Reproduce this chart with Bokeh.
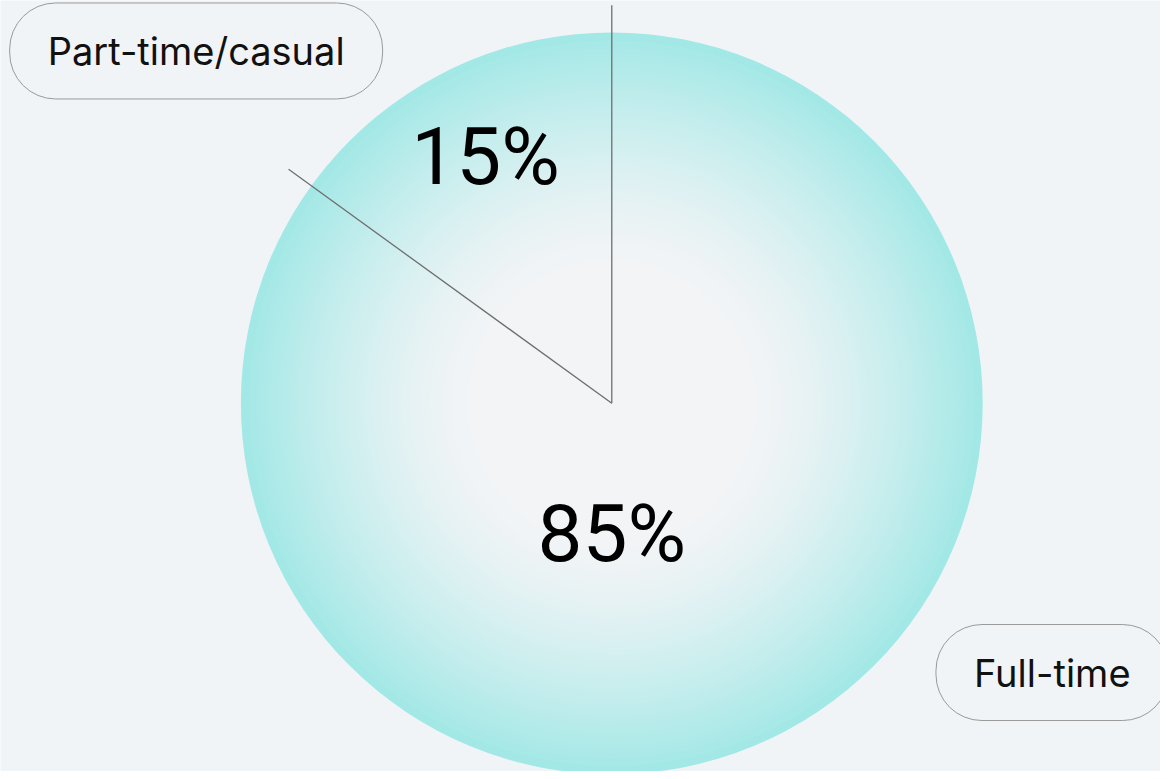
import math
from bokeh.plotting import figure
from bokeh.models import Range1d, Label
from bokeh.embed import file_html
from bokeh.resources import INLINE

# ---- data ----
categories = ["Part-time/casual", "Full-time"]
shares = [15, 85]
share_labels = ["15%", "85%"]

# ---- layout (reference pixel space mapped onto the figure) ----
W, H = 1160, 771
p = figure(width=W, height=H, output_backend="svg", toolbar_location=None,
           x_range=Range1d(0, 1168), y_range=Range1d(779, 0),
           min_border=0, outline_line_color=None)
p.axis.visible = False
p.grid.visible = False
p.background_fill_color = "#f1f4f6"
p.border_fill_color = "#f1f4f6"

cx, cy, R = 615.5, 407.0, 373.5

# radial gradient simulated by concentric discs
def mix(c1, c2, t):
    a = [int(c1[i:i + 2], 16) for i in (1, 3, 5)]
    b = [int(c2[i:i + 2], 16) for i in (1, 3, 5)]
    return "#%02x%02x%02x" % tuple(round(a[k] + (b[k] - a[k]) * t) for k in range(3))

center_col, edge_col = "#f2f4f6", "#a2e8e6"
N = 90
radii, cols = [], []
for i in range(N):
    t = 1 - i / N
    m = max(0.0, (t - 0.38) / 0.62)
    m = m ** 1.4
    radii.append(R * t)
    cols.append(mix(center_col, edge_col, m))
p.circle(x=[cx] * N, y=[cy] * N, radius=radii, fill_color=cols, line_color=None)

# slice boundaries (start at top, going counter-clockwise)
total = sum(shares)
L = R * 1.077
xs0, ys0, xs1, ys1 = [], [], [], []
cum = 0
for s in shares:
    ang = 2 * math.pi * cum / total
    xs0.append(cx); ys0.append(cy)
    xs1.append(cx - L * math.sin(ang)); ys1.append(cy - L * math.cos(ang))
    cum += s
p.segment(xs0, ys0, xs1, ys1, line_color="#6e6e6e", line_width=1.3)

# value labels
mid = 2 * math.pi * (shares[0] / 2) / total
p.add_layout(Label(x=cx - 0.75 * R * math.sin(mid), y=cy - 0.75 * R * math.cos(mid) + 1,
                   text=share_labels[0], text_font="Roboto", text_font_size="80px",
                   text_color="#000000", text_align="center", text_baseline="middle"))
p.add_layout(Label(x=cx, y=cy + 132, text=share_labels[1], text_font="Roboto",
                   text_font_size="80px", text_color="#000000",
                   text_align="center", text_baseline="middle"))

# category pills
pill_pos = [(197, 51), (1059, 679)]
for name, (px, py) in zip(categories, pill_pos):
    p.add_layout(Label(x=px, y=py, text=name, text_font="Inter", text_font_size="38px",
                       text_color="#111111", text_align="center", text_baseline="middle",
                       padding=(38, 25), border_radius=46,
                       border_line_color="#999999", border_line_width=1,
                       background_fill_color=None))

open("out.html", "w").write(file_html(p, INLINE))
